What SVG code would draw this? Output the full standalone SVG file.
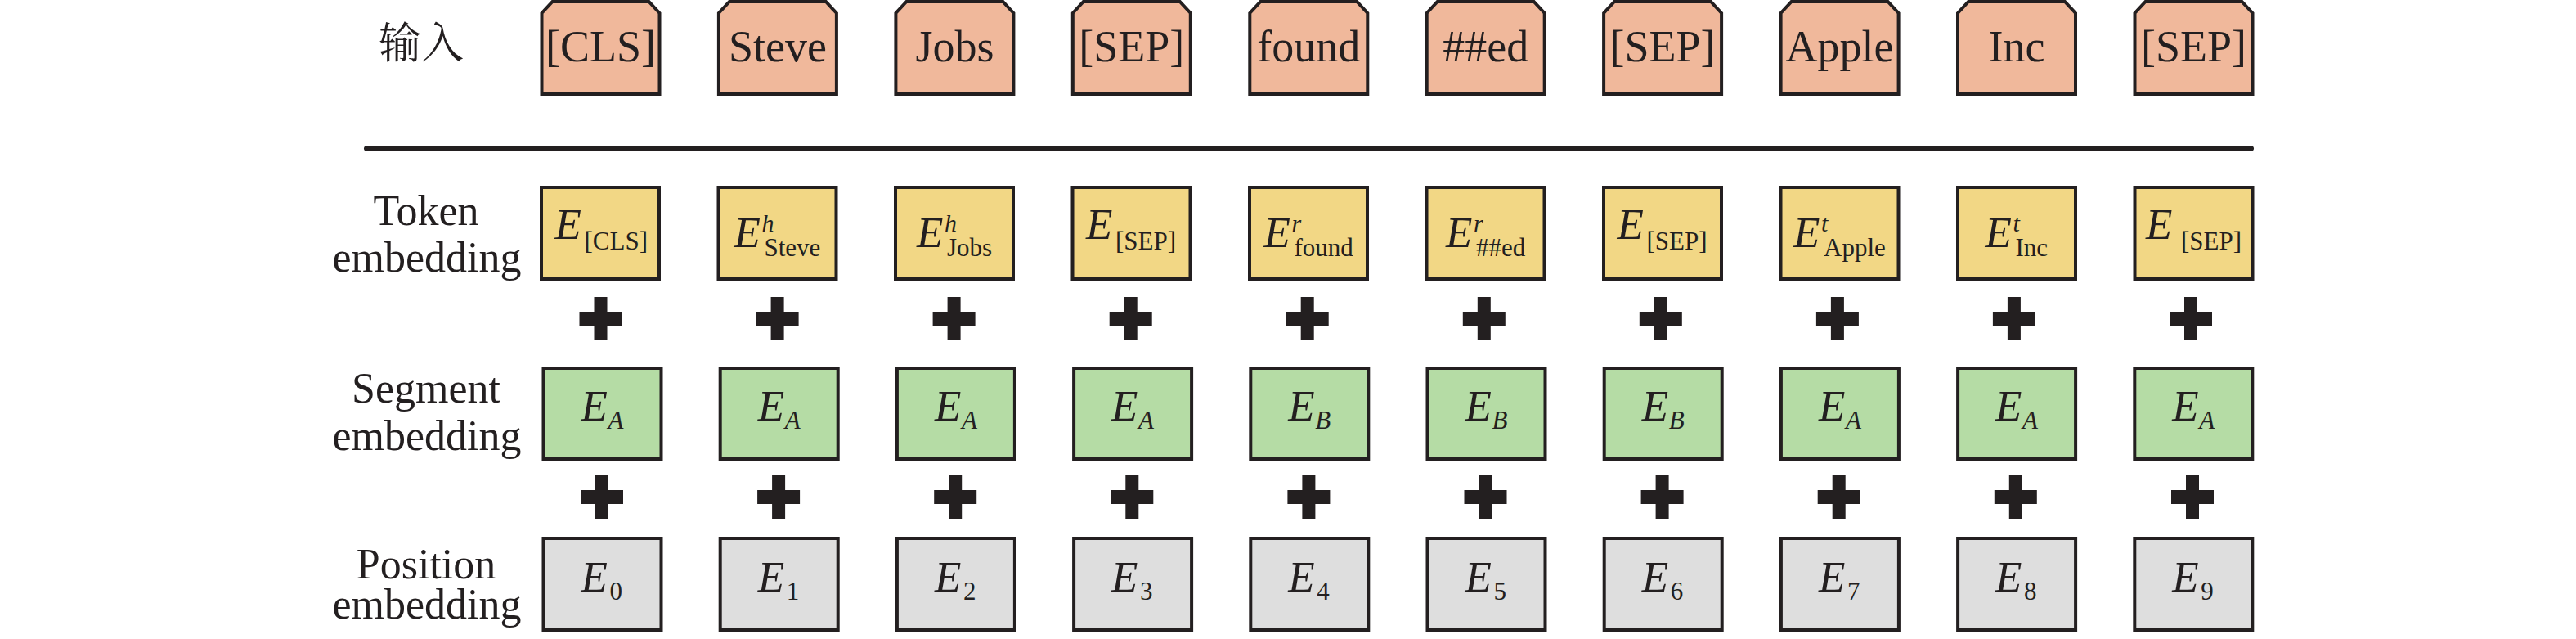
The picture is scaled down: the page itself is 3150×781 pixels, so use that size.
<svg xmlns="http://www.w3.org/2000/svg" xmlns:xlink="http://www.w3.org/1999/xlink" width="3150" height="781" viewBox="0 0 3150 781">
<style>
.in{fill:#F0B89B;stroke:#231F20;stroke-width:4;stroke-linejoin:miter}
.tk{fill:#F2D785;stroke:#231F20;stroke-width:4}
.sg{fill:#B5DCA5;stroke:#231F20;stroke-width:4}
.ps{fill:#DEDEDE;stroke:#231F20;stroke-width:4}
text{font-family:"Liberation Serif","Times New Roman",serif;fill:#231F20}
.lbl{font-size:52px;text-anchor:middle}
.cjk{font-family:"Noto Serif CJK SC","Noto Sans CJK SC",serif;font-size:52px;text-anchor:middle}
.itxt{font-size:54px;text-anchor:middle}
.E{font-size:53px;font-style:italic}
.sub{font-size:31px}
.subi{font-size:31px;font-style:italic}
.sup{font-size:30px;font-style:italic}
.plus{fill:#231F20}
</style>
<defs>
<path id="inshape" d="M-72,115 V16 L-59,2 H59 L72,16 V115 Z"/>
<path id="plus" d="M-8,-26.5 H8 V-8.5 H26 V8.5 H8 V26.5 H-8 V8.5 H-26 V-8.5 H-8 Z"/>
</defs>

<g id="labels">
<text class="cjk" x="515" y="71">输入</text>
<text class="lbl" x="521" y="275">Token</text>
<text class="lbl" x="522" y="332">embedding</text>
<text class="lbl" x="521" y="492">Segment</text>
<text class="lbl" x="522" y="550">embedding</text>
<text class="lbl" x="521" y="707">Position</text>
<text class="lbl" x="522" y="756">embedding</text>
</g>

<g id="separator">
<line x1="448" y1="181.5" x2="2753" y2="181.5" stroke="#231F20" stroke-width="6" stroke-linecap="round"/>
</g>

<g id="input-row">
<g id="in0"><use xlink:href="#inshape" href="#inshape" class="in" x="734.5"/><text class="itxt" x="734.5" y="75">[CLS]</text></g>
<g id="in1"><use xlink:href="#inshape" href="#inshape" class="in" x="950.9"/><text class="itxt" x="950.9" y="75">Steve</text></g>
<g id="in2"><use xlink:href="#inshape" href="#inshape" class="in" x="1167.4"/><text class="itxt" x="1167.4" y="75">Jobs</text></g>
<g id="in3"><use xlink:href="#inshape" href="#inshape" class="in" x="1383.8"/><text class="itxt" x="1383.8" y="75">[SEP]</text></g>
<g id="in4"><use xlink:href="#inshape" href="#inshape" class="in" x="1600.3"/><text class="itxt" x="1600.3" y="75">found</text></g>
<g id="in5"><use xlink:href="#inshape" href="#inshape" class="in" x="1816.7"/><text class="itxt" x="1816.7" y="75">##ed</text></g>
<g id="in6"><use xlink:href="#inshape" href="#inshape" class="in" x="2033.1"/><text class="itxt" x="2033.1" y="75">[SEP]</text></g>
<g id="in7"><use xlink:href="#inshape" href="#inshape" class="in" x="2249.6"/><text class="itxt" x="2249.6" y="75">Apple</text></g>
<g id="in8"><use xlink:href="#inshape" href="#inshape" class="in" x="2466"/><text class="itxt" x="2466" y="75">Inc</text></g>
<g id="in9"><use xlink:href="#inshape" href="#inshape" class="in" x="2682.5"/><text class="itxt" x="2682.5" y="75">[SEP]</text></g>
</g>

<g id="token-row">
<g id="tk0"><rect class="tk" x="662" y="229" width="144" height="112"/><text><tspan class="E" x="678.5" y="292">E</tspan><tspan class="sub" x="714.5" y="305">[CLS]</tspan></text></g>
<g id="tk1"><rect class="tk" x="878.5" y="229" width="144" height="112"/><text><tspan class="E" x="897.5" y="302">E</tspan><tspan class="sup" x="931.5" y="283">h</tspan><tspan class="sub" x="934.5" y="313">Steve</tspan></text></g>
<g id="tk2"><rect class="tk" x="1095" y="229" width="144" height="112"/><text><tspan class="E" x="1121" y="302">E</tspan><tspan class="sup" x="1155" y="283">h</tspan><tspan class="sub" x="1158" y="313">Jobs</tspan></text></g>
<g id="tk3"><rect class="tk" x="1311.5" y="229" width="144" height="112"/><text><tspan class="E" x="1328" y="292">E</tspan><tspan class="sub" x="1364" y="305">[SEP]</tspan></text></g>
<g id="tk4"><rect class="tk" x="1528" y="229" width="144" height="112"/><text><tspan class="E" x="1545.5" y="302">E</tspan><tspan class="sup" x="1579.5" y="283">r</tspan><tspan class="sub" x="1582.5" y="313">found</tspan></text></g>
<g id="tk5"><rect class="tk" x="1744.5" y="229" width="144" height="112"/><text><tspan class="E" x="1768" y="302">E</tspan><tspan class="sup" x="1802" y="283">r</tspan><tspan class="sub" x="1805" y="313">##ed</tspan></text></g>
<g id="tk6"><rect class="tk" x="1961" y="229" width="144" height="112"/><text><tspan class="E" x="1977.5" y="292">E</tspan><tspan class="sub" x="2013.5" y="305">[SEP]</tspan></text></g>
<g id="tk7"><rect class="tk" x="2177.5" y="229" width="144" height="112"/><text><tspan class="E" x="2193" y="302">E</tspan><tspan class="sup" x="2227" y="283">t</tspan><tspan class="sub" x="2230" y="313">Apple</tspan></text></g>
<g id="tk8"><rect class="tk" x="2394" y="229" width="144" height="112"/><text><tspan class="E" x="2427.5" y="302">E</tspan><tspan class="sup" x="2461.5" y="283">t</tspan><tspan class="sub" x="2464.5" y="313">Inc</tspan></text></g>
<g id="tk9"><rect class="tk" x="2610.5" y="229" width="144" height="112"/><text><tspan class="E" x="2624" y="292">E</tspan><tspan class="sub" x="2667" y="305">[SEP]</tspan></text></g>
</g>

<g id="segment-row">
<g id="sg0"><rect class="sg" x="664.5" y="450" width="144" height="111"/><text><tspan class="E" x="710.5" y="514">E</tspan><tspan class="subi" x="743.5" y="524">A</tspan></text></g>
<g id="sg1"><rect class="sg" x="880.7" y="450" width="144" height="111"/><text><tspan class="E" x="926.7" y="514">E</tspan><tspan class="subi" x="959.7" y="524">A</tspan></text></g>
<g id="sg2"><rect class="sg" x="1096.9" y="450" width="144" height="111"/><text><tspan class="E" x="1142.9" y="514">E</tspan><tspan class="subi" x="1175.9" y="524">A</tspan></text></g>
<g id="sg3"><rect class="sg" x="1313.1" y="450" width="144" height="111"/><text><tspan class="E" x="1359.1" y="514">E</tspan><tspan class="subi" x="1392.1" y="524">A</tspan></text></g>
<g id="sg4"><rect class="sg" x="1529.3" y="450" width="144" height="111"/><text><tspan class="E" x="1575.3" y="514">E</tspan><tspan class="subi" x="1608.3" y="524">B</tspan></text></g>
<g id="sg5"><rect class="sg" x="1745.5" y="450" width="144" height="111"/><text><tspan class="E" x="1791.5" y="514">E</tspan><tspan class="subi" x="1824.5" y="524">B</tspan></text></g>
<g id="sg6"><rect class="sg" x="1961.7" y="450" width="144" height="111"/><text><tspan class="E" x="2007.7" y="514">E</tspan><tspan class="subi" x="2040.7" y="524">B</tspan></text></g>
<g id="sg7"><rect class="sg" x="2177.9" y="450" width="144" height="111"/><text><tspan class="E" x="2223.9" y="514">E</tspan><tspan class="subi" x="2256.9" y="524">A</tspan></text></g>
<g id="sg8"><rect class="sg" x="2394.1" y="450" width="144" height="111"/><text><tspan class="E" x="2440.1" y="514">E</tspan><tspan class="subi" x="2473.1" y="524">A</tspan></text></g>
<g id="sg9"><rect class="sg" x="2610.3" y="450" width="144" height="111"/><text><tspan class="E" x="2656.3" y="514">E</tspan><tspan class="subi" x="2689.3" y="524">A</tspan></text></g>
</g>

<g id="position-row">
<g id="ps0"><rect class="ps" x="664.5" y="658" width="144" height="112"/><text><tspan class="E" x="710.5" y="723">E</tspan><tspan class="sub" x="745.5" y="733">0</tspan></text></g>
<g id="ps1"><rect class="ps" x="880.7" y="658" width="144" height="112"/><text><tspan class="E" x="926.7" y="723">E</tspan><tspan class="sub" x="961.7" y="733">1</tspan></text></g>
<g id="ps2"><rect class="ps" x="1096.9" y="658" width="144" height="112"/><text><tspan class="E" x="1142.9" y="723">E</tspan><tspan class="sub" x="1177.9" y="733">2</tspan></text></g>
<g id="ps3"><rect class="ps" x="1313.1" y="658" width="144" height="112"/><text><tspan class="E" x="1359.1" y="723">E</tspan><tspan class="sub" x="1394.1" y="733">3</tspan></text></g>
<g id="ps4"><rect class="ps" x="1529.3" y="658" width="144" height="112"/><text><tspan class="E" x="1575.3" y="723">E</tspan><tspan class="sub" x="1610.3" y="733">4</tspan></text></g>
<g id="ps5"><rect class="ps" x="1745.5" y="658" width="144" height="112"/><text><tspan class="E" x="1791.5" y="723">E</tspan><tspan class="sub" x="1826.5" y="733">5</tspan></text></g>
<g id="ps6"><rect class="ps" x="1961.7" y="658" width="144" height="112"/><text><tspan class="E" x="2007.7" y="723">E</tspan><tspan class="sub" x="2042.7" y="733">6</tspan></text></g>
<g id="ps7"><rect class="ps" x="2177.9" y="658" width="144" height="112"/><text><tspan class="E" x="2223.9" y="723">E</tspan><tspan class="sub" x="2258.9" y="733">7</tspan></text></g>
<g id="ps8"><rect class="ps" x="2394.1" y="658" width="144" height="112"/><text><tspan class="E" x="2440.1" y="723">E</tspan><tspan class="sub" x="2475.1" y="733">8</tspan></text></g>
<g id="ps9"><rect class="ps" x="2610.3" y="658" width="144" height="112"/><text><tspan class="E" x="2656.3" y="723">E</tspan><tspan class="sub" x="2691.3" y="733">9</tspan></text></g>
</g>

<g id="connectors">
<g class="plus">
<use xlink:href="#plus" href="#plus" x="734.5" y="389.5"/>
<use xlink:href="#plus" href="#plus" x="950.6" y="389.5"/>
<use xlink:href="#plus" href="#plus" x="1166.6" y="389.5"/>
<use xlink:href="#plus" href="#plus" x="1382.7" y="389.5"/>
<use xlink:href="#plus" href="#plus" x="1598.7" y="389.5"/>
<use xlink:href="#plus" href="#plus" x="1814.8" y="389.5"/>
<use xlink:href="#plus" href="#plus" x="2030.8" y="389.5"/>
<use xlink:href="#plus" href="#plus" x="2246.9" y="389.5"/>
<use xlink:href="#plus" href="#plus" x="2462.9" y="389.5"/>
<use xlink:href="#plus" href="#plus" x="2679" y="389.5"/>
<use xlink:href="#plus" href="#plus" x="736" y="607.5"/>
<use xlink:href="#plus" href="#plus" x="952.1" y="607.5"/>
<use xlink:href="#plus" href="#plus" x="1168.2" y="607.5"/>
<use xlink:href="#plus" href="#plus" x="1384.3" y="607.5"/>
<use xlink:href="#plus" href="#plus" x="1600.4" y="607.5"/>
<use xlink:href="#plus" href="#plus" x="1816.5" y="607.5"/>
<use xlink:href="#plus" href="#plus" x="2032.6" y="607.5"/>
<use xlink:href="#plus" href="#plus" x="2248.7" y="607.5"/>
<use xlink:href="#plus" href="#plus" x="2464.8" y="607.5"/>
<use xlink:href="#plus" href="#plus" x="2681" y="607.5"/>
</g>
</g>
</svg>
